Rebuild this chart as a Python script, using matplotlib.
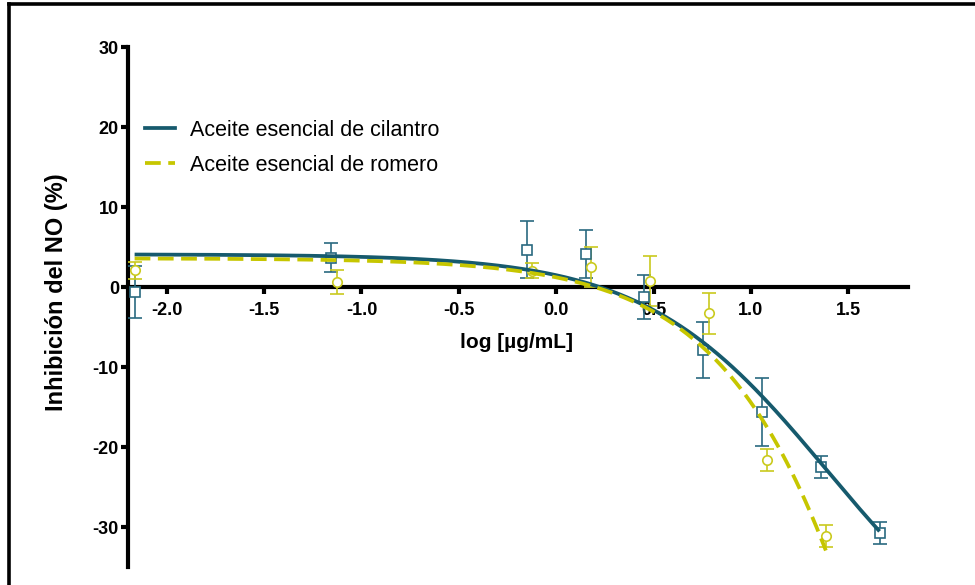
import numpy as np
import matplotlib
matplotlib.use("Agg")
import matplotlib.pyplot as plt
from matplotlib.lines import Line2D

plt.rcParams['font.family'] = ['Liberation Sans', 'DejaVu Sans']

# Measured responses (mean ± SEM) against log concentration
cil_x = [-2.165, -1.157, -0.149, 0.151, 0.452, 0.753, 1.058, 1.360, 1.661]
cil_y = [-0.6, 3.7, 4.7, 4.2, -1.2, -7.8, -15.6, -22.5, -30.7]
cil_err = [3.3, 1.8, 3.6, 3.0, 2.75, 3.5, 4.2, 1.4, 1.4]

rom_x = [-2.165, -1.125, -0.126, 0.180, 0.481, 0.784, 1.084, 1.385]
rom_y = [2.1, 0.6, 2.05, 2.5, 0.8, -3.25, -21.6, -31.1]
rom_err = [1.05, 1.5, 0.95, 2.5, 3.1, 2.55, 1.35, 1.4]

# Four-parameter logistic fits: top, bottom, logIC50, hill slope
cil_fit = dict(top=4.1, bottom=-50.0, logc=1.393, hill=0.93)
rom_fit = dict(top=3.6, bottom=-200.0, logc=2.107, hill=0.915)

x_ticks = [-2.0, -1.5, -1.0, -0.5, 0.0, 0.5, 1.0, 1.5]
y_ticks = [-30, -20, -10, 0, 10, 20, 30]
labels = ["Aceite esencial de cilantro", "Aceite esencial de romero"]

teal_line = '#165A6D'
teal_pts = '#2A6A80'
yel_line = '#C6C600'
yel_pts = '#CACA1E'
curve_lw = 2.7
dash = (0, (4.2, 2.0))


def logistic(x, top, bottom, logc, hill):
    return bottom + (top - bottom) / (1.0 + 10 ** ((x - logc) * hill))


W, H = 975, 585
fig = plt.figure(figsize=(W / 100, H / 100), dpi=100)
ax = fig.add_axes([128 / W, 1 - 567.3 / H, (908 - 128) / W, (567.3 - 47) / H])
ax.set_xlim(-2.199, 1.807)
ax.set_ylim(-35, 30)

# data points with error bars
ax.errorbar(cil_x, cil_y, yerr=cil_err, fmt='s', ms=6.5, mfc='white',
            mec=teal_pts, mew=1.2, ecolor=teal_pts, elinewidth=1.2,
            capsize=5, capthick=1.2, zorder=3)
ax.errorbar(rom_x, rom_y, yerr=rom_err, fmt='o', ms=6.8, mfc='white',
            mec=yel_pts, mew=1.2, ecolor=yel_pts, elinewidth=1.2,
            capsize=5, capthick=1.2, zorder=3)

# fitted curves
xc = np.linspace(min(cil_x), max(cil_x), 300)
ax.plot(xc, logistic(xc, **cil_fit), color=teal_line, lw=curve_lw, zorder=4,
        solid_capstyle='butt')
xr = np.linspace(min(rom_x), max(rom_x), 300)
ax.plot(xr, logistic(xr, **rom_fit), color=yel_line, lw=curve_lw, zorder=5,
        linestyle=dash)

# axes styling
for s in ('top', 'right'):
    ax.spines[s].set_visible(False)
ax.spines['bottom'].set_position(('data', 0))
ax.spines['left'].set_linewidth(3)
ax.spines['bottom'].set_linewidth(3)
ax.set_xticks(x_ticks)
ax.set_xticklabels([f"{v:.1f}" for v in x_ticks])
ax.set_yticks(y_ticks)
ax.set_yticklabels([str(v) for v in y_ticks])
ax.tick_params(axis='x', direction='out', length=5, width=3, pad=6,
               labelsize=13)
ax.tick_params(axis='y', direction='out', length=5, width=3, pad=1.5,
               labelsize=13)
for lab in ax.get_xticklabels() + ax.get_yticklabels():
    lab.set_fontweight('bold')

fig.text(517 / W, 1 - 343 / H, "log [µg/mL]", ha='center', va='center',
         fontsize=15, fontweight='bold')
fig.text(57 / W, 1 - 292 / H, "Inhibición del NO (%)", ha='center',
         va='center', rotation=90, fontsize=17, fontweight='bold')

handles = [Line2D([], [], color=teal_line, lw=curve_lw),
           Line2D([], [], color=yel_line, lw=curve_lw, linestyle=dash)]
ax.legend(handles, labels, loc='upper left', bbox_to_anchor=(145 / W, 1 - 120 / H),
          bbox_transform=fig.transFigure, frameon=False, borderpad=0,
          borderaxespad=0, handlelength=1.4, handletextpad=0.7,
          labelspacing=0.65, prop={'size': 15.5})

# outer frame (top and left edges)
fig.add_artist(Line2D([8.5 / W, 1.0], [1 - 4 / H, 1 - 4 / H],
                      transform=fig.transFigure, color='black', lw=2.6))
fig.add_artist(Line2D([8.5 / W, 8.5 / W], [0, 1 - 4 / H],
                      transform=fig.transFigure, color='black', lw=2.6))

fig.savefig("out.png", dpi=100)
